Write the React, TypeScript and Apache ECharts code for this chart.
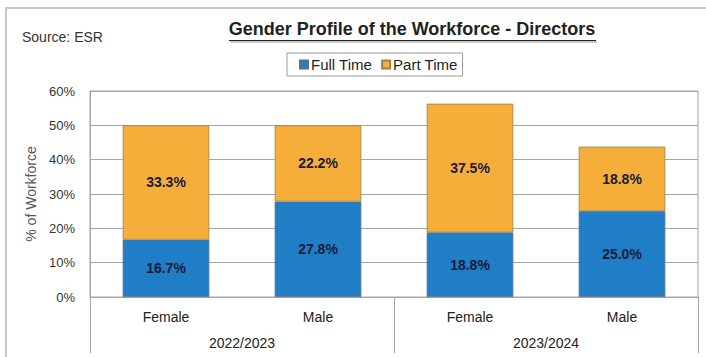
import React, { useEffect, useRef } from "react";
import * as echarts from "echarts";

const categories = ["Female", "Male", "Female", "Male"];
const periods = ["2022/2023", "2023/2024"];
const fullTime = [16.7, 27.8, 18.8, 25.0];
const partTime = [33.3, 22.2, 37.5, 18.8];
const yTicks = [0, 10, 20, 30, 40, 50, 60];

const FONT = "'Liberation Sans', Arial, sans-serif";

export default function App() {
  const ref = useRef<HTMLDivElement>(null);
  useEffect(() => {
    document.body.style.margin = "0";
    const chart = echarts.init(ref.current!, null, { renderer: "svg" });
    const labelStyle = {
      show: true,
      position: "inside" as const,
      formatter: (p: any) => p.value.toFixed(1) + "%",
      fontFamily: FONT,
      fontWeight: "bold" as const,
      fontSize: 14,
      color: "#1a1a38",
    };
    chart.setOption({
      animation: false,
      backgroundColor: "#ffffff",
      textStyle: { fontFamily: FONT },
      graphic: [
        {
          type: "rect",
          shape: { x: 6, y: 8, width: 720, height: 380 },
          style: { fill: "none", stroke: "#c8c8c8", lineWidth: 2 },
          silent: true,
        },
        {
          type: "text",
          x: 22,
          y: 37,
          style: {
            text: "Source: ESR",
            fontFamily: FONT,
            fontSize: 14,
            fill: "#333",
            verticalAlign: "middle",
          },
        },
        {
          type: "text",
          x: 412,
          y: 29,
          style: {
            text: "Gender Profile of the Workforce - Directors",
            fontFamily: FONT,
            fontSize: 18,
            fontWeight: "bold",
            fill: "#222",
            align: "center",
            verticalAlign: "middle",
          },
        },
        {
          type: "line",
          shape: { x1: 229, y1: 40.5, x2: 596, y2: 40.5 },
          style: { stroke: "#222", lineWidth: 1 },
        },
        {
          type: "line",
          shape: { x1: 230, y1: 42, x2: 597, y2: 42 },
          style: { stroke: "#bbb", lineWidth: 1.5 },
        },
      ],
      legend: {
        left: 287,
        top: 53,
        itemWidth: 8,
        itemHeight: 8,
        itemGap: 9,
        icon: "rect",
        borderColor: "#999",
        borderWidth: 1,
        padding: [4, 5, 4, 12],
        textStyle: { fontFamily: FONT, fontSize: 15, color: "#222", padding: [0, 0, 0, -2] },
        data: ["Full Time", "Part Time"],
      },
      grid: {
        left: 90,
        right: 8,
        top: 91,
        bottom: 60,
        show: true,
        borderColor: "#a6a6a6",
        borderWidth: 1,
      },
      xAxis: [
        {
          type: "category",
          data: categories,
          axisLine: { show: true, lineStyle: { color: "#a6a6a6" } },
          axisTick: { show: false },
          axisLabel: { fontFamily: FONT, fontSize: 14, color: "#222", margin: 13 },
        },
        {
          type: "category",
          data: periods,
          position: "bottom",
          axisLine: { show: false },
          axisTick: {
            show: true,
            length: 56,
            interval: 0,
            lineStyle: { color: "#a6a6a6" },
          },
          axisLabel: { fontFamily: FONT, fontSize: 14, color: "#222", margin: 39 },
        },
      ],
      yAxis: {
        type: "value",
        min: yTicks[0],
        max: yTicks[yTicks.length - 1],
        interval: 10,
        name: "% of Workforce",
        nameLocation: "middle",
        nameRotate: 90,
        nameGap: 50,
        nameTextStyle: { fontFamily: FONT, fontSize: 14, color: "#555" },
        axisLine: { show: true, lineStyle: { color: "#a6a6a6" } },
        axisTick: { show: false },
        axisLabel: {
          formatter: "{value}%",
          fontFamily: FONT,
          fontSize: 13,
          color: "#333",
          margin: 15,
        },
        splitLine: { show: true, lineStyle: { color: "#a6a6a6" } },
      },
      series: [
        {
          name: "Full Time",
          type: "bar",
          stack: "total",
          xAxisIndex: 0,
          data: fullTime,
          barCategoryGap: "43%",
          itemStyle: { color: "#1f7ec6", borderColor: "#5a6f86", borderWidth: 0.8 },
          label: labelStyle,
        },
        {
          name: "Part Time",
          type: "bar",
          stack: "total",
          xAxisIndex: 0,
          data: partTime,
          barCategoryGap: "43%",
          itemStyle: { color: "#f5ae3a", borderColor: "#9a8150", borderWidth: 0.8 },
          label: labelStyle,
        },
      ],
    });
    return () => chart.dispose();
  }, []);
  return <div ref={ref} style={{ width: 706, height: 357 }} />;
}
